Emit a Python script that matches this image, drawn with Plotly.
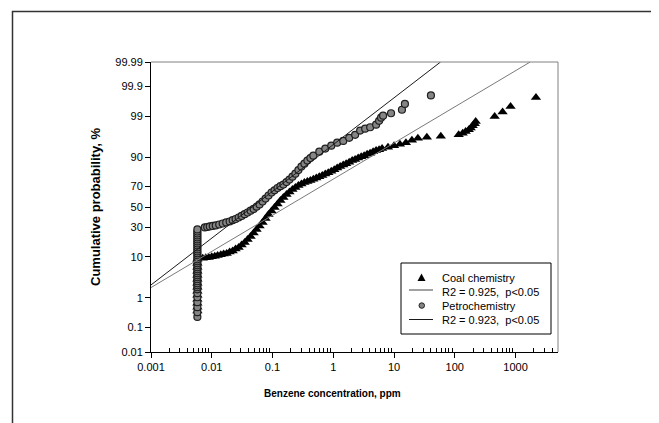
import plotly.graph_objects as go
from statistics import NormalDist

# ---------------- data ----------------
coal_ppm = [0.0058]*14 + [
    0.00711, 0.00798, 0.00893, 0.0100, 0.0112, 0.0125, 0.0141, 0.0157, 0.0176, 0.0197,
    0.0221, 0.0247, 0.0277, 0.0310, 0.0348, 0.0389, 0.0436, 0.0489, 0.0547, 0.0612,
    0.0686, 0.0768, 0.0860, 0.0964, 0.108, 0.121, 0.135, 0.151, 0.170, 0.190,
    0.213, 0.238, 0.267, 0.299, 0.335, 0.375, 0.420, 0.470, 0.526, 0.589,
    0.660, 0.739, 0.828, 0.927, 1.04, 1.16, 1.30, 1.46, 1.63, 1.83,
    2.05, 2.29, 2.57, 2.88, 3.22, 3.61, 4.04, 4.53, 5.07, 5.68,
    6.36, 7.97, 10.0, 12.5, 15.7, 19.7, 24.7, 34.7, 58.9, 116,
    135, 151, 170, 183, 197, 213, 221, 453, 612, 828, 2170]
coal_pct = [0.38, 0.51, 0.68, 0.90, 1.18, 1.53, 1.98, 2.52, 3.19, 3.99, 4.95, 6.09, 7.42, 8.97] + [
    9.4, 9.6, 9.8, 10.05, 10.3, 10.65, 11.0, 11.37, 11.7, 12.38,
    13.0, 14.03, 15.0, 16.56, 18.2, 20.3, 22.5, 25.3, 28.3, 31.35,
    34.6, 38.4, 42.4, 45.9, 49.5, 53.1, 56.6, 59.6, 62.5, 64.9,
    67.3, 69.1, 70.9, 72.2, 73.5, 74.3, 75.1, 76.1, 77.1, 78.1,
    79.0, 80.1, 81.1, 82.1, 83.1, 84.1, 85.0, 85.9, 86.7, 87.5,
    88.3, 88.9, 89.5, 90.1, 90.6, 91.15, 91.6, 92.13, 92.6, 92.93,
    93.3, 93.76, 94.2, 94.64, 95.05, 95.67, 96.1, 96.3, 96.5, 96.8,
    97.08, 97.37, 97.63, 97.86, 98.14, 98.37, 98.59, 98.99, 99.26, 99.50, 99.75]

petro_ppm = [0.0058]*37 + [
    0.00768, 0.00843, 0.00927, 0.01038, 0.01164, 0.01327, 0.01514, 0.0173, 0.0197, 0.0221,
    0.0247, 0.0277, 0.0310, 0.0348, 0.0389, 0.0436, 0.0489, 0.0547, 0.0612, 0.0686,
    0.0768, 0.0860, 0.0964, 0.108, 0.121, 0.135, 0.151, 0.170, 0.190, 0.213,
    0.238, 0.267, 0.299, 0.335, 0.375, 0.420, 0.470, 0.589, 0.739, 0.927,
    1.16, 1.46, 1.83, 2.29, 2.77, 3.35, 4.05, 5.07, 5.68, 6.12,
    6.61, 8.93, 13.5, 15.1, 40.5]
petro_pct = [0.24, 0.35, 0.51, 0.73, 1.03, 1.35, 1.74, 1.98,
             2.23, 2.52, 2.84, 3.19, 3.57, 3.99, 4.45, 4.95, 5.50, 6.09,
             6.73, 7.42, 8.16, 8.97, 9.82, 10.75, 11.72, 12.75, 13.85, 15.0,
             16.24, 17.52, 18.89, 20.3, 21.77, 23.3, 24.9, 26.5, 28.3] + [
    30.0, 30.4, 30.9, 31.35, 31.8, 32.7, 33.6, 34.6, 35.5, 36.8,
    37.9, 39.4, 40.9, 42.7, 44.4, 46.2, 48.0, 50.3, 52.6, 55.6,
    58.6, 61.6, 64.5, 66.6, 68.7, 70.3, 71.7, 73.9, 75.9, 78.2,
    80.4, 82.8, 85.0, 86.7, 88.3, 89.5, 90.6, 92.2, 93.3, 94.2,
    95.05, 95.5, 96.2, 96.8, 97.5, 97.77, 97.96, 98.26, 98.65, 98.9,
    99.04, 99.19, 99.37, 99.59, 99.79]

coal_fit_ppm = [0.001, 1742]
coal_fit_pct = [1.94, 99.99]
petro_fit_ppm = [0.001, 58.3]
petro_fit_pct = [2.28, 99.99]

y_tick_pct = [0.01, 0.1, 1, 10, 30, 50, 70, 90, 99, 99.9, 99.99]
y_tick_text = ["0.01", "0.1", "1", "10", "30", "50", "70", "90", "99", "99.9", "99.99"]
x_tick_vals = [0.001, 0.01, 0.1, 1, 10, 100, 1000]
x_tick_text = ["0.001", "0.01", "0.1", "1", "10", "100", "1000"]

legend_labels = ["Coal chemistry", "R2 = 0.925,&nbsp; p&lt;0.05",
                 "Petrochemistry", "R2 = 0.923,&nbsp; p&lt;0.05"]

# ---------------- helpers ----------------
nd = NormalDist()
def probit(pcts):
    return [nd.inv_cdf(p / 100.0) for p in pcts]

zmax = nd.inv_cdf(0.9999)
minor_x = [m * 10 ** e for e in range(-3, 4) for m in range(2, 10) if m * 10 ** e < 5000]

FONT = "Liberation Sans, Arial, sans-serif"
COAL_COLOR = "black"
PETRO_FILL = "#858585"
PETRO_EDGE = "#1e1e1e"
COAL_LINE = "#7a7a7a"
PETRO_LINE = "#1a1a1a"

fig = go.Figure()
fig.add_trace(go.Scatter(
    x=coal_ppm, y=probit(coal_pct), mode="markers", name=legend_labels[0],
    marker=dict(symbol="triangle-up", size=9, color=COAL_COLOR, line=dict(width=0))))
fig.add_trace(go.Scatter(
    x=petro_ppm, y=probit(petro_pct), mode="markers", name=legend_labels[2],
    marker=dict(symbol="circle", size=7, color=PETRO_FILL, line=dict(width=1.2, color=PETRO_EDGE))))
fig.add_trace(go.Scatter(
    x=coal_fit_ppm, y=probit(coal_fit_pct), mode="lines", name=legend_labels[1],
    line=dict(color=COAL_LINE, width=1)))
fig.add_trace(go.Scatter(
    x=petro_fit_ppm, y=probit(petro_fit_pct), mode="lines", name=legend_labels[3],
    line=dict(color=PETRO_LINE, width=1)))

# page layout (the page body has an 8px margin)
OFF = 8
W, H = 659, 423
PL, PR, PT, PB = 151, 558, 62, 352          # plot box on the page
L, R, T, B = PL - OFF, PR - OFF, PT - OFF, PB - OFF
pw, ph = R - L, B - T
def px(x):
    return (x - OFF - L) / pw
def py(y):
    return (B - (y - OFF)) / ph

shapes = [
    dict(type="line", xref="paper", yref="paper", x0=0, x1=1, y0=1, y1=1,
         line=dict(color="#808080", width=1)),
    dict(type="line", xref="paper", yref="paper", x0=1, x1=1, y0=0, y1=1,
         line=dict(color="#808080", width=1)),
    dict(type="rect", xref="paper", yref="paper", x0=px(12.5), x1=px(654),
         y0=py(450), y1=py(11.5), line=dict(color="#333333", width=1.5)),
    # legend box
    dict(type="rect", xref="paper", yref="paper", x0=px(401), x1=px(551),
         y0=py(334), y1=py(263), fillcolor="white", line=dict(color="black", width=1)),
    dict(type="path", xref="paper", yref="paper",
         path="M {},{} L {},{} L {},{} Z".format(px(417.5), py(281), px(425.5), py(281),
                                                   px(421.5), py(273.5)),
         fillcolor=COAL_COLOR, line=dict(width=0)),
    dict(type="line", xref="paper", yref="paper", x0=px(409), x1=px(433), y0=py(290), y1=py(290),
         line=dict(color="#444444", width=1)),
    dict(type="circle", xref="paper", yref="paper", x0=px(419), x1=px(424.5),
         y0=py(308.3), y1=py(302.8), fillcolor=PETRO_FILL, line=dict(color=PETRO_EDGE, width=1)),
    dict(type="line", xref="paper", yref="paper", x0=px(409), x1=px(433), y0=py(319.5), y1=py(319.5),
         line=dict(color=PETRO_LINE, width=1)),
]

annotations = [
    dict(text="<b>Benzene concentration, ppm</b>", xref="paper", yref="paper",
         x=px(332.5), y=py(393), xanchor="center", yanchor="middle", showarrow=False,
         font=dict(family=FONT, size=10, color="black")),
    dict(text="<b>Cumulative probability, %</b>", xref="paper", yref="paper",
         x=px(95.5), y=py(207.5), xanchor="center", yanchor="middle", showarrow=False,
         textangle=-90, font=dict(family=FONT, size=13, color="black")),
]
for lab, yy in zip(legend_labels, [277.5, 291.5, 305.5, 319.5]):
    annotations.append(dict(text=lab, xref="paper", yref="paper", x=px(440), y=py(yy),
                            xanchor="left", yanchor="middle", showarrow=False,
                            font=dict(family=FONT, size=11, color="black")))

fig.update_layout(
    width=W, height=H,
    margin=dict(l=L, r=W - R, t=T, b=H - B, pad=0),
    paper_bgcolor="white", plot_bgcolor="white",
    font=dict(family=FONT, size=11, color="black"),
    showlegend=False,
    xaxis=dict(type="log", range=[-3, 3.699], tickvals=x_tick_vals, ticktext=x_tick_text,
               ticks="outside", ticklen=5, tickcolor="black", showline=True, linecolor="black",
               linewidth=1, showgrid=False, zeroline=False, tickfont=dict(size=11),
               minor=dict(tickvals=minor_x, ticks="inside", ticklen=4, tickcolor="black", showgrid=False)),
    yaxis=dict(range=[-zmax, zmax], tickvals=probit(y_tick_pct), ticktext=y_tick_text,
               ticks="outside", ticklen=5, tickcolor="black", showline=True, linecolor="black",
               linewidth=1, showgrid=False, zeroline=False, tickfont=dict(size=11)),
    shapes=shapes,
    annotations=annotations,
)

fig.write_html("out.html")
